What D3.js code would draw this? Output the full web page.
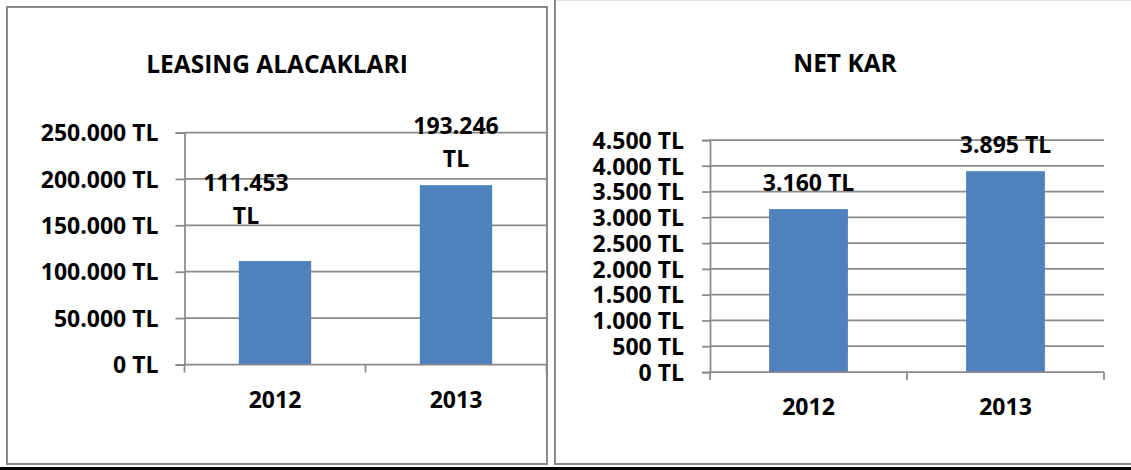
<!DOCTYPE html>
<html>
<head>
<meta charset="utf-8">
<script src="https://cdn.jsdelivr.net/npm/d3@7"></script>
<style>
  body { margin: 0; background: #fff; }
  svg { display: block; }
  text { font-family: "Open Sans", "Liberation Sans", sans-serif; font-weight: bold; fill: #000; }
</style>
</head>
<body>
<svg width="1131" height="470"></svg>
<script>
// values
var years = ["2012", "2013"];
var leasingValues = [111453, 193246];
var leasingTicks = [0, 50000, 100000, 150000, 200000, 250000];
var netKarValues = [3160, 3895];
var netKarTicks = [0, 500, 1000, 1500, 2000, 2500, 3000, 3500, 4000, 4500];

var tr = d3.formatLocale({decimal: ",", thousands: ".", grouping: [3], currency: ["", " TL"]});
var tl = tr.format("$,.0f");

var svg = d3.select("svg");
var gridColor = "#8a8a8a";
var barColor = "#4f81bd";

// panel frames
svg.append("rect")
    .attr("x", 7).attr("y", 7)
    .attr("width", 540).attr("height", 457)
    .attr("fill", "none")
    .attr("stroke", gridColor)
    .attr("stroke-width", 2);

svg.append("line")
    .attr("x1", 555).attr("x2", 1131).attr("y1", 0.5).attr("y2", 0.5)
    .attr("stroke", "#e4e4e4").attr("stroke-width", 1);
svg.append("path")
    .attr("d", "M555,0V464H1131")
    .attr("fill", "none")
    .attr("stroke", gridColor)
    .attr("stroke-width", 2);

svg.append("rect")
    .attr("x", 0).attr("y", 467)
    .attr("width", 1131).attr("height", 3)
    .attr("fill", "#000");

function drawChart(opt){
  var g = svg.append("g");

  var x = d3.scaleBand()
      .domain(years)
      .range([opt.left, opt.right])
      .paddingInner(0.6)
      .paddingOuter(0.3);

  var y = d3.scaleLinear()
      .domain([0, d3.max(opt.ticks)])
      .range([opt.bottom, opt.top]);

  // title
  g.append("text")
      .attr("x", opt.titleX)
      .attr("y", opt.titleY)
      .attr("text-anchor", "middle")
      .style("font-size", "24.5px")
      .text(opt.title);

  // gridlines
  g.selectAll(".grid")
    .data(opt.ticks.slice(1))
    .enter().append("line")
      .attr("x1", opt.left)
      .attr("x2", opt.right)
      .attr("y1", function(d) { return y(d); })
      .attr("y2", function(d) { return y(d); })
      .attr("stroke", gridColor)
      .attr("stroke-width", 1.75);

  // bars
  g.selectAll(".bar")
    .data(opt.values)
    .enter().append("rect")
      .attr("x", function(d, i) { return x(years[i]); })
      .attr("y", function(d) { return y(d); })
      .attr("width", x.bandwidth())
      .attr("height", function(d) { return y(0) - y(d); })
      .attr("fill", barColor);

  // y axis
  var yAxis = d3.axisLeft(y)
      .tickValues(opt.ticks)
      .tickSize(opt.tick)
      .tickPadding(opt.labelGap)
      .tickFormat(tl);

  var ya = g.append("g")
      .attr("transform", "translate(" + opt.left + ",0)")
      .call(yAxis);
  ya.select(".domain").attr("stroke", gridColor).attr("stroke-width", 1.75);
  ya.selectAll(".tick line").attr("stroke", gridColor).attr("stroke-width", 1.75);
  ya.selectAll(".tick text")
      .attr("dy", "0.36em")
      .style("font-size", opt.tickFont + "px")
      .attr("fill", "#000");

  // x axis line + boundary ticks
  g.append("line")
      .attr("x1", opt.left).attr("x2", opt.right)
      .attr("y1", y(0)).attr("y2", y(0))
      .attr("stroke", gridColor)
      .attr("stroke-width", 1.75);

  g.selectAll(".xtick")
    .data(d3.range(years.length + 1))
    .enter().append("line")
      .attr("x1", function(i) { return opt.left + i * x.step(); })
      .attr("x2", function(i) { return opt.left + i * x.step(); })
      .attr("y1", y(0))
      .attr("y2", y(0) + 8)
      .attr("stroke", gridColor)
      .attr("stroke-width", 1.75);

  g.selectAll(".xlab")
    .data(years)
    .enter().append("text")
      .attr("x", function(d) { return x(d) + x.bandwidth() / 2; })
      .attr("y", y(0) + opt.catGap)
      .attr("text-anchor", "middle")
      .style("font-size", "23px")
      .text(function(d) { return d; });

  // data labels
  var lab = g.selectAll(".dlab")
    .data(opt.values)
    .enter().append("text")
      .attr("text-anchor", "middle")
      .style("font-size", "23px")
      .attr("transform", function(d, i) {
        var n = opt.nudge[i] || [0, 0];
        return "translate(" + (x(years[i]) + x.bandwidth() / 2 + n[0]) + "," + (y(d) - 18 + n[1]) + ")";
      });

  if(opt.wrap){
    lab.append("tspan")
        .attr("x", 0).attr("y", -33)
        .text(function(d) { return tl(d).replace(" TL", ""); });
    lab.append("tspan")
        .attr("x", 0).attr("y", 0)
        .text("TL");
  }
  else{
    lab.text(function(d) { return tl(d); });
  }
}

drawChart({
  title: "LEASING ALACAKLARI",
  titleX: 277, titleY: 73,
  values: leasingValues,
  ticks: leasingTicks,
  left: 184.5, right: 546.5, top: 132.5, bottom: 364.5,
  tick: 9, labelGap: 17, tickFont: 23, catGap: 43,
  wrap: true,
  nudge: [[-29, -19], [0, 0]]
});

drawChart({
  title: "NET KAR",
  titleX: 845, titleY: 72,
  values: netKarValues,
  ticks: netKarTicks,
  left: 710, right: 1104, top: 140, bottom: 372,
  tick: 8, labelGap: 18, tickFont: 23, catGap: 43,
  wrap: false,
  nudge: [[0, 0], [0, 0]]
});
</script>
</body>
</html>
